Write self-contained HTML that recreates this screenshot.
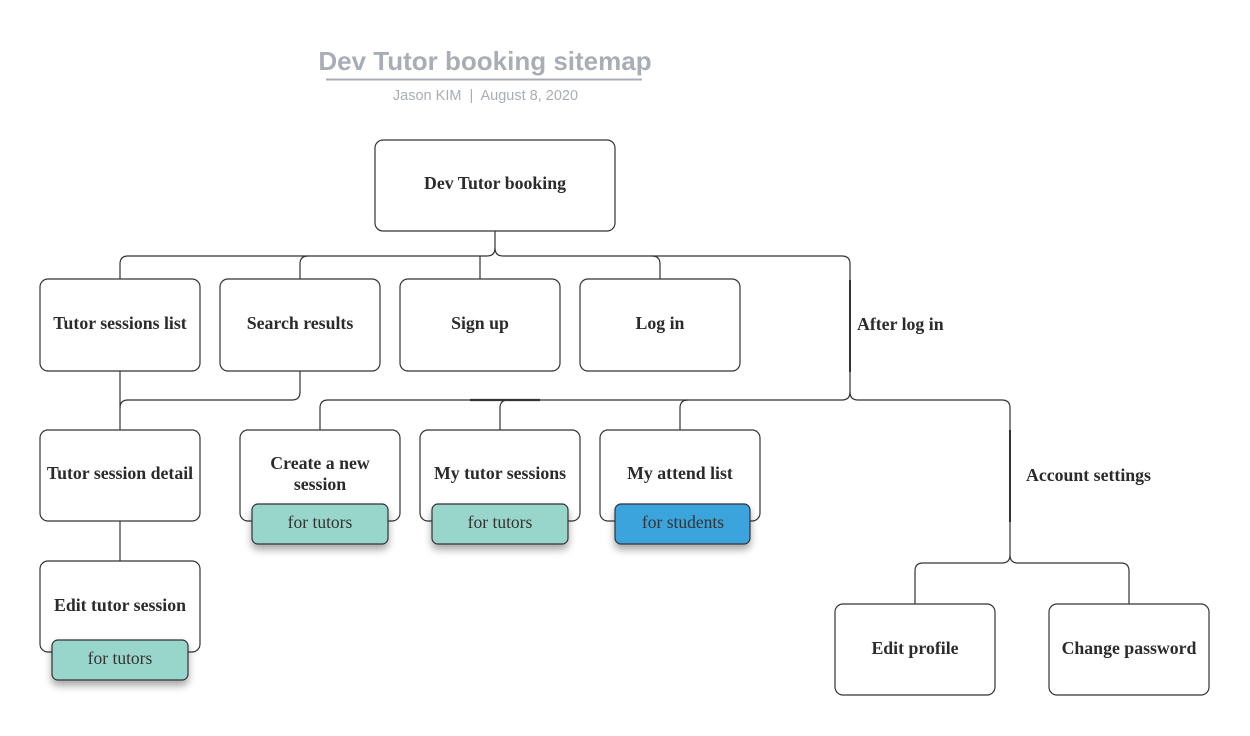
<!DOCTYPE html>
<html><head><meta charset="utf-8"><style>
body{margin:0;background:#fff}
svg{display:block}
.b{fill:#fff;stroke:#333;stroke-width:1.2}
.t{font-family:"Liberation Serif",serif;font-weight:bold;font-size:17.8px;fill:#2b2b2b;text-anchor:middle}
.g{font-family:"Liberation Serif",serif;font-size:17.5px;fill:#333;text-anchor:middle}
.c{fill:none;stroke:#333;stroke-width:1.2}
</style></head><body>
<svg width="1250" height="736" viewBox="0 0 1250 736">
<defs><filter id="s" x="-20%" y="-30%" width="140%" height="180%"><feDropShadow dx="0" dy="5" stdDeviation="4" flood-color="#000" flood-opacity="0.35"/></filter></defs>
<text x="485" y="70" text-anchor="middle" font-family="Liberation Sans,sans-serif" font-weight="bold" font-size="26" fill="#a9adb6">Dev Tutor booking sitemap</text>
<line x1="326" y1="79.5" x2="642" y2="79.5" stroke="#a9adb6" stroke-width="2"/>
<text x="485.5" y="100" text-anchor="middle" font-family="Liberation Sans,sans-serif" font-size="14.5" fill="#a9adb6" style="white-space:pre">Jason KIM  |  August 8, 2020</text>
<!-- connectors -->
<path class="c" d="M495 231 V248 Q495 256 487 256 H128 Q120 256 120 264 V279"/>
<path class="c" d="M300 279 V264 Q300 256 308 256"/>
<path class="c" d="M480 279 V256"/>
<path class="c" d="M495 248 Q495 256 503 256 H842 Q850 256 850 264 V392 Q850 400 842 400 H328 Q320 400 320 408 V430"/>
<path class="c" d="M652 256 Q660 256 660 264 V279"/>
<path class="c" d="M500 430 V408 Q500 400 508 400"/>
<path class="c" d="M680 430 V408 Q680 400 688 400"/>
<line x1="470" y1="400" x2="540" y2="400" stroke="#333" stroke-width="2.2"/>
<line x1="850" y1="280" x2="850" y2="372" stroke="#333" stroke-width="2"/>
<path class="c" d="M850 392 Q850 400 858 400 H1002 Q1010 400 1010 408 V555 Q1010 563 1002 563 H923 Q915 563 915 571 V604"/>
<path class="c" d="M1010 555 Q1010 563 1018 563 H1121 Q1129 563 1129 571 V604"/>
<line x1="1010" y1="430" x2="1010" y2="522" stroke="#333" stroke-width="2"/>
<path class="c" d="M120 371 V430"/>
<path class="c" d="M300 371 V392 Q300 400 292 400 H128 Q120 400 120 408"/>
<path class="c" d="M120 521 V561"/>
<!-- boxes -->
<rect class="b" x="375" y="140" width="240" height="91" rx="8"/>
<text class="t" x="495" y="189">Dev Tutor booking</text>
<rect class="b" x="40" y="279" width="160" height="92" rx="8"/><text class="t" x="120" y="329">Tutor sessions list</text>
<rect class="b" x="220" y="279" width="160" height="92" rx="8"/><text class="t" x="300" y="329">Search results</text>
<rect class="b" x="400" y="279" width="160" height="92" rx="8"/><text class="t" x="480" y="329">Sign up</text>
<rect class="b" x="580" y="279" width="160" height="92" rx="8"/><text class="t" x="660" y="329">Log in</text>
<text class="t" x="857" y="330" style="text-anchor:start">After log in</text>
<rect class="b" x="40" y="430" width="160" height="91" rx="8"/><text class="t" x="120" y="479">Tutor session detail</text>
<rect class="b" x="240" y="430" width="160" height="91" rx="8"/><text class="t" x="320" y="469">Create a new</text><text class="t" x="320" y="490">session</text>
<rect class="b" x="420" y="430" width="160" height="91" rx="8"/><text class="t" x="500" y="479">My tutor sessions</text>
<rect class="b" x="600" y="430" width="160" height="91" rx="8"/><text class="t" x="680" y="479">My attend list</text>
<text class="t" x="1026" y="481" style="text-anchor:start">Account settings</text>
<rect class="b" x="40" y="561" width="160" height="91" rx="8"/><text class="t" x="120" y="611">Edit tutor session</text>
<rect class="b" x="835" y="604" width="160" height="91" rx="8"/><text class="t" x="915" y="654">Edit profile</text>
<rect class="b" x="1049" y="604" width="160" height="91" rx="8"/><text class="t" x="1129" y="654">Change password</text>
<!-- tags -->
<rect x="252" y="504" width="136" height="40" rx="6" fill="#98d5cb" stroke="#333" stroke-width="1.2" filter="url(#s)"/><text class="g" x="320" y="528">for tutors</text>
<rect x="432" y="504" width="136" height="40" rx="6" fill="#98d5cb" stroke="#333" stroke-width="1.2" filter="url(#s)"/><text class="g" x="500" y="528">for tutors</text>
<rect x="615" y="504" width="135" height="40" rx="6" fill="#3aa4dc" stroke="#333" stroke-width="1.2" filter="url(#s)"/><text class="g" x="683" y="528">for students</text>
<rect x="52" y="640" width="136" height="40" rx="6" fill="#98d5cb" stroke="#333" stroke-width="1.2" filter="url(#s)"/><text class="g" x="120" y="664">for tutors</text>
</svg>
</body></html>
